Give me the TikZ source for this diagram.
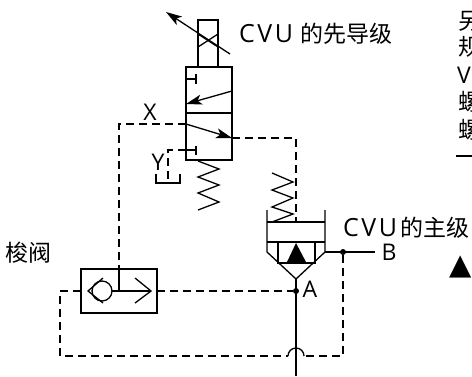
\documentclass[tikz,border=0pt]{standalone}
\usepackage{fontspec}
\setmainfont{Open Sans}
\newfontfamily\cjk{Noto Sans CJK SC}
\newfontfamily\cvufont[LetterSpace=10]{Open Sans}
\newfontfamily\symfont{DejaVu Sans}
\usetikzlibrary{calc,arrows.meta,positioning}

\tikzset{
    pipe/.style={line width=1.3pt},
    pilot/.style={line width=1.3pt,dash pattern=on 8pt off 5pt},
    flowarrow/.style={line width=1.3pt,-{Stealth[length=16pt,width=10pt,inset=4pt]}},
    label/.style={inner sep=0pt,font=\fontsize{23}{23}\selectfont},
    cjklabel/.style={inner sep=0pt,anchor=west,font=\fontsize{23}{23}\selectfont\cjk},
    joint/.style={circle,fill=black,inner sep=0pt,minimum size=6pt}
}

\begin{document}
\begin{tikzpicture}[x=1pt,y=-1pt]
        \useasboundingbox (0,0) rectangle (472,376);

        % pilot valve
        \coordinate (c1) at (198,20);
        \coordinate (c2) at (218,67);
        \coordinate (v1) at (186,67);
        \coordinate (v2) at (232,160);
        \coordinate (x) at (186,124);
        \coordinate (xout) at (232,138);
        \coordinate (y) at (186,150);
        \draw[pipe] (c1) rectangle (c2);
        \draw[pipe] (198,34)--(218,47);
        \draw[pipe] (198,47)--(218,34);
        \draw[flowarrow] (230,54)--(166,12);
        \draw[pipe] (v1) rectangle (v2);
        \draw[pipe] (186,113)--(232,113);
        \draw[pipe] (186,79)--(196,79);
        \draw[pipe] (196,74)--(196,84);
        \draw[pipe] (y)--(196,150);
        \draw[pipe] (196,146)--(196,155);
        \draw[flowarrow] (232,91)--(186,104);
        \draw[flowarrow] (x)--(xout);
        \draw[pipe] (198,161)--(219,169)--(198,177)--(219,185)--(198,193)--(219,202)--(198,210);

        % drain
        \coordinate (tank) at (168,183);
        \draw[pilot] (y)--(168,150)--(tank);
        \draw[pipe] (156,174)--(156,183)--(180,183)--(180,174);

        % main stage
        \coordinate (a) at (296,291);
        \coordinate (apex) at (296,279);
        \coordinate (b) at (343,252);
        \coordinate (bend) at (375,252);
        \coordinate (bottom) at (296,376);
        \draw[pipe] (267,210)--(267,252)--(apex)--(325,252)--(325,210);
        \draw[pipe] (267,222)--(325,222);
        \draw[pipe] (267,242)--(325,242);
        \draw[pipe] (278,242)--(278,263)--(315,263)--(315,242);
        \fill (296,243)--(306,262)--(287,262)--cycle;
        \draw[pipe] (272,173)--(293,182)--(272,190)--(293,198)--(272,207)--(293,214)--(272,222);
        \draw[pipe] (325,252)--(bend);
        \draw[pipe] (apex)--(bottom);
        \node[joint] (ja) at (a) {};
        \node[joint] (jb) at (b) {};

        % shuttle valve
        \coordinate (s1) at (81,269);
        \coordinate (s2) at (157,313);
        \coordinate (sm) at (119,291);
        \draw[pipe] (s1) rectangle (s2);
        \draw[pipe] (102,291) circle (10);
        \draw[pipe] (103,278)--(88,291)--(103,303);
        \draw[pipe] (135,278)--(151,291)--(135,303);
        \draw[pipe] (112,291)--(151,291);
        \draw[pipe] (119,269)--(sm);

        % pilot lines
        \draw[pilot] (x)--(119,124)--(119,269);
        \draw[pilot] (xout)--(296,138)--(296,222);
        \draw[pilot] (157,291)--(ja);
        \draw[pilot] (81,291)--(60,291)--(60,356)--(288,356);
        \draw[pipe] (288,356) arc (180:360:8);
        \draw[pilot] (jb)--(343,356)--(304,356);

        % labels
        \node[label] (xlabel) at (150,112) {X};
        \node[label] (ylabel) at (158,162) {Y};
        \node[label] (alabel) at (310,289) {A};
        \node[label] (blabel) at (389,252) {B};
        \node[cjklabel] (pilotlabel) at (239,34) {{\cvufont\fontsize{25}{25}\selectfont CVU}\,\,的先导级};
        \node[cjklabel] (mainlabel) at (343,228) {{\cvufont\fontsize{25}{25}\selectfont CVU}\,的主级};
        \node[cjklabel] (shuttlelabel) at (5,253) {梭阀};

        % cut off text
        \node[cjklabel] (t1) at (458,21) {另};
        \node[cjklabel] (t2) at (458,47) {规};
        \node[label,anchor=west] (t3) at (457,75) {V};
        \node[cjklabel] (t4) at (458,102) {螺};
        \node[cjklabel] (t5) at (458,130) {螺};
        \draw[line width=2pt] (456,156)--(472,156);
        \node[inner sep=0pt,font=\fontsize{29}{29}\selectfont\symfont] (tri) at (461,267) {▲};
    \end{tikzpicture}
\end{document}
